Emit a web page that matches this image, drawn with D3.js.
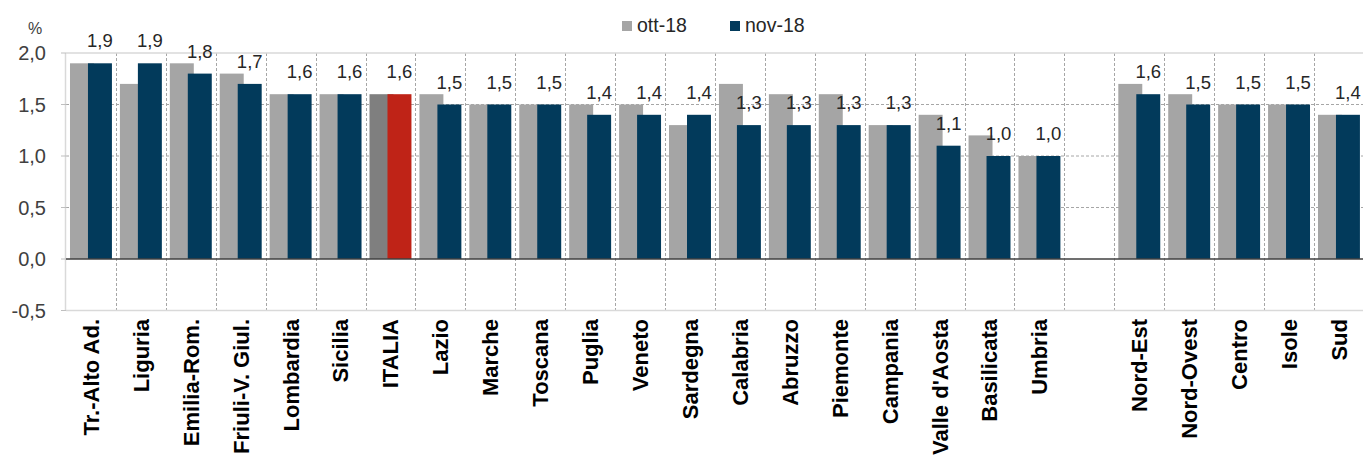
<!DOCTYPE html>
<html>
<head>
<meta charset="utf-8">
<script src="https://cdn.jsdelivr.net/npm/d3@7"></script>
<style>
  body { margin: 0; background: #fff; }
  svg { display: block; font-family: "Liberation Sans", Arial, sans-serif; }
</style>
</head>
<body>
<div class="chart"></div>
<script>
// categories, the empty one is the gap between regions and macro areas
const categories = ['Tr.-Alto Ad.', 'Liguria', 'Emilia-Rom.', 'Friuli-V. Giul.', 'Lombardia', 'Sicilia',
  'ITALIA', 'Lazio', 'Marche', 'Toscana', 'Puglia', 'Veneto', 'Sardegna', 'Calabria', 'Abruzzo',
  'Piemonte', 'Campania', "Valle d'Aosta", 'Basilicata', 'Umbria', '',
  'Nord-Est', 'Nord-Ovest', 'Centro', 'Isole', 'Sud'];
const ott18 = [1.9, 1.7, 1.9, 1.8, 1.6, 1.6, 1.6, 1.6, 1.5, 1.5, 1.5, 1.5, 1.3, 1.7, 1.6,
  1.6, 1.3, 1.4, 1.2, 1.0, null, 1.7, 1.6, 1.5, 1.5, 1.4];
const nov18 = [1.9, 1.9, 1.8, 1.7, 1.6, 1.6, 1.6, 1.5, 1.5, 1.5, 1.4, 1.4, 1.4, 1.3, 1.3,
  1.3, 1.3, 1.1, 1.0, 1.0, null, 1.6, 1.5, 1.5, 1.5, 1.4];
const yTicks = [2.0, 1.5, 1.0, 0.5, 0.0, -0.5];
const seriesNames = ['ott-18', 'nov-18'];

const width = 1363;
const height = 455;
const plotLeft = 66;
const slotWidth = 49.92;

const grey = '#a5a5a5';
const navy = '#023a5b';
const italiaGrey = '#7f7f7f';
const italiaRed = '#bf2317';

// italian decimals, plain hyphen for minus
const fmt = v => d3.format('.1f')(v).replace('.', ',').replace('\u2212', '-');

const svg = d3.select('.chart')
  .append('svg')
  .attr('width', width)
  .attr('height', height);

const x = d3.scaleBand()
  .domain(d3.range(categories.length))
  .range([plotLeft, plotLeft + slotWidth * categories.length])
  .paddingInner(0)
  .paddingOuter(0);

const y = d3.scaleLinear()
  .domain([-0.5, 2.0])
  .range([310.5, 53]);

const bw = x.bandwidth();
const plotRight = x.range()[1];

// grid: dashed horizontals
svg.append('g')
  .selectAll('line')
  .data(yTicks.filter(t => t > 0 && t < 2))
  .enter()
    .append('line')
    .attr('x1', plotLeft).attr('x2', plotRight)
    .attr('y1', d => y(d)).attr('y2', d => y(d))
    .attr('stroke', '#a6a6a6')
    .attr('stroke-width', 1)
    .attr('stroke-dasharray', '3,2');

// grid: dashed verticals at slot boundaries
svg.append('g')
  .selectAll('line')
  .data(d3.range(1, categories.length))
  .enter()
    .append('line')
    .attr('x1', d => Math.round(x(d)) + 0.5).attr('x2', d => Math.round(x(d)) + 0.5)
    .attr('y1', y(2.0)).attr('y2', y(-0.5))
    .attr('stroke', '#a6a6a6')
    .attr('stroke-width', 1)
    .attr('stroke-dasharray', '3,2');

// plot border (light)
svg.append('line')
  .attr('x1', plotLeft).attr('x2', plotRight).attr('y1', y(2.0)).attr('y2', y(2.0))
  .attr('stroke', '#d9d9d9').attr('stroke-width', 1.5);
svg.append('line')
  .attr('x1', plotLeft).attr('x2', plotRight).attr('y1', y(-0.5)).attr('y2', y(-0.5))
  .attr('stroke', '#d9d9d9').attr('stroke-width', 1.5);
svg.append('line')
  .attr('x1', plotLeft - 0.5).attr('x2', plotLeft - 0.5).attr('y1', y(2.0)).attr('y2', y(-0.5))
  .attr('stroke', '#d9d9d9').attr('stroke-width', 1.5);

// small left ticks
svg.append('g')
  .selectAll('line')
  .data(yTicks)
  .enter()
    .append('line')
    .attr('x1', plotLeft - 5).attr('x2', plotLeft)
    .attr('y1', d => y(d)).attr('y2', d => y(d))
    .attr('stroke', '#bfbfbf');

const idx = d3.range(categories.length).filter(i => nov18[i] !== null);

// ott-18 bars
svg.append('g')
  .selectAll('rect')
  .data(idx)
  .enter()
    .append('rect')
    .attr('x', i => x(i) + 0.08 * bw)
    .attr('width', 0.48 * bw)
    .attr('y', i => y(ott18[i]))
    .attr('height', i => y(0) - y(ott18[i]))
    .attr('fill', i => categories[i] === 'ITALIA' ? italiaGrey : grey);

// nov-18 bars
svg.append('g')
  .selectAll('rect')
  .data(idx)
  .enter()
    .append('rect')
    .attr('x', i => x(i) + 0.44 * bw)
    .attr('width', 0.48 * bw)
    .attr('y', i => y(nov18[i]))
    .attr('height', i => y(0) - y(nov18[i]))
    .attr('fill', i => categories[i] === 'ITALIA' ? italiaRed : navy);

// zero line
svg.append('line')
  .attr('x1', plotLeft).attr('x2', plotRight).attr('y1', y(0)).attr('y2', y(0))
  .attr('stroke', '#404040').attr('stroke-width', 1.5);

// data labels on nov-18
svg.append('g')
  .selectAll('text')
  .data(idx)
  .enter()
    .append('text')
    .attr('x', i => x(i) + 0.68 * bw)
    .attr('y', i => y(nov18[i]) - 16)
    .attr('text-anchor', 'middle')
    .attr('font-size', 18.5)
    .attr('fill', '#262626')
    .text(i => fmt(nov18[i]));

// y tick labels
svg.append('g')
  .selectAll('text')
  .data(yTicks)
  .enter()
    .append('text')
    .attr('x', 46)
    .attr('y', d => y(d))
    .attr('dy', '0.36em')
    .attr('text-anchor', 'end')
    .attr('font-size', 20)
    .attr('fill', '#404040')
    .text(fmt);

svg.append('text')
  .attr('x', 35).attr('y', 34)
  .attr('text-anchor', 'middle')
  .attr('font-size', 16)
  .attr('fill', '#404040')
  .text('%');

// x labels, rotated
svg.append('g')
  .selectAll('text')
  .data(idx)
  .enter()
    .append('text')
    .attr('transform', i => `translate(${x(i) + bw / 2},319) rotate(-90)`)
    .attr('dy', '0.36em')
    .attr('text-anchor', 'end')
    .attr('font-size', 22)
    .attr('font-weight', 'bold')
    .attr('fill', '#000')
    .text(i => categories[i]);

// legend
const legend = svg.append('g')
  .selectAll('g')
  .data(seriesNames)
  .enter()
    .append('g')
    .attr('transform', (d, i) => `translate(${i === 0 ? 622 : 730},0)`);
legend.append('rect')
  .attr('x', 0).attr('y', 21).attr('width', 10).attr('height', 10)
  .attr('fill', (d, i) => i === 0 ? grey : navy);
legend.append('text')
  .attr('x', 15).attr('y', 32)
  .attr('font-size', 19.5)
  .attr('fill', '#262626')
  .text(d => d);
</script>
</body>
</html>
